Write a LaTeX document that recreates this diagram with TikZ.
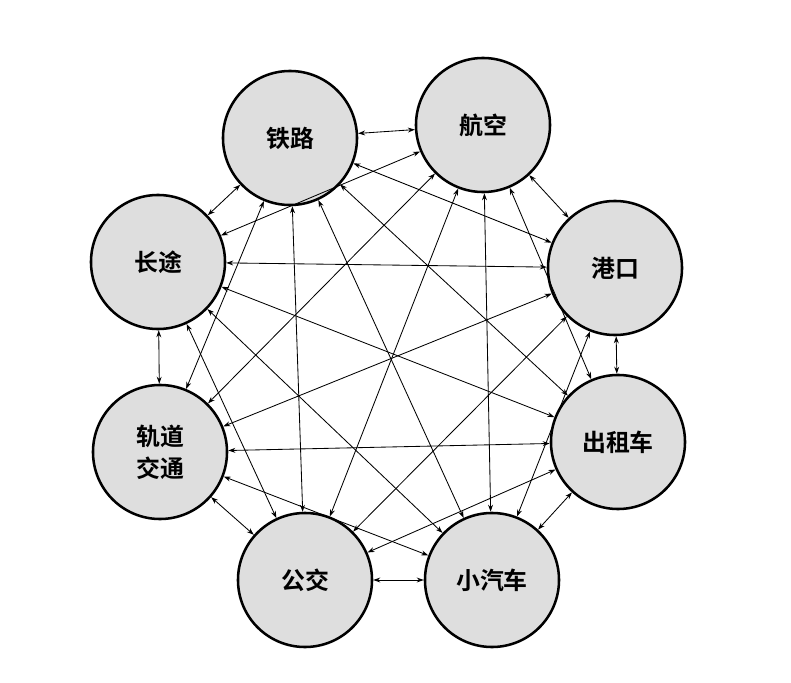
\documentclass[tikz,border=0pt]{standalone}
\usepackage{fontspec}
\newfontfamily\cjk{Noto Sans CJK SC}[BoldFont={* Bold}]
\usetikzlibrary{arrows.meta}
\tikzset{
  mode/.style={circle, draw=black, line width=1.8pt, fill=black!13, minimum size=3.35cm, inner sep=0pt, align=center, font=\cjk\bfseries\fontsize{17}{23}\selectfont},
  link/.style={{Stealth[length=5pt,width=3.5pt]}-{Stealth[length=5pt,width=3.5pt]}, line width=0.6pt}
}
\begin{document}
\begin{tikzpicture}[x=0.025cm,y=-0.025cm]
	\useasboundingbox (0,0) rectangle (791,683);
	\node[mode] (n1) at (290,138) {铁路};
	\node[mode] (n2) at (483,125) {航空};
	\node[mode] (n3) at (615,268) {港口};
	\node[mode] (n4) at (618,442) {出租车};
	\node[mode] (n5) at (492,580) {小汽车};
	\node[mode] (n6) at (305,580) {公交};
	\node[mode] (n7) at (160,452) {轨道\\交通};
	\node[mode] (n8) at (158,262) {长途};
	\foreach \i in {1,...,7} {
		\pgfmathtruncatemacro{\s}{\i+1}
		\foreach \j in {\s,...,8} {
			\draw[link] (n\i) -- (n\j);
		}
	}
\end{tikzpicture}
\end{document}
